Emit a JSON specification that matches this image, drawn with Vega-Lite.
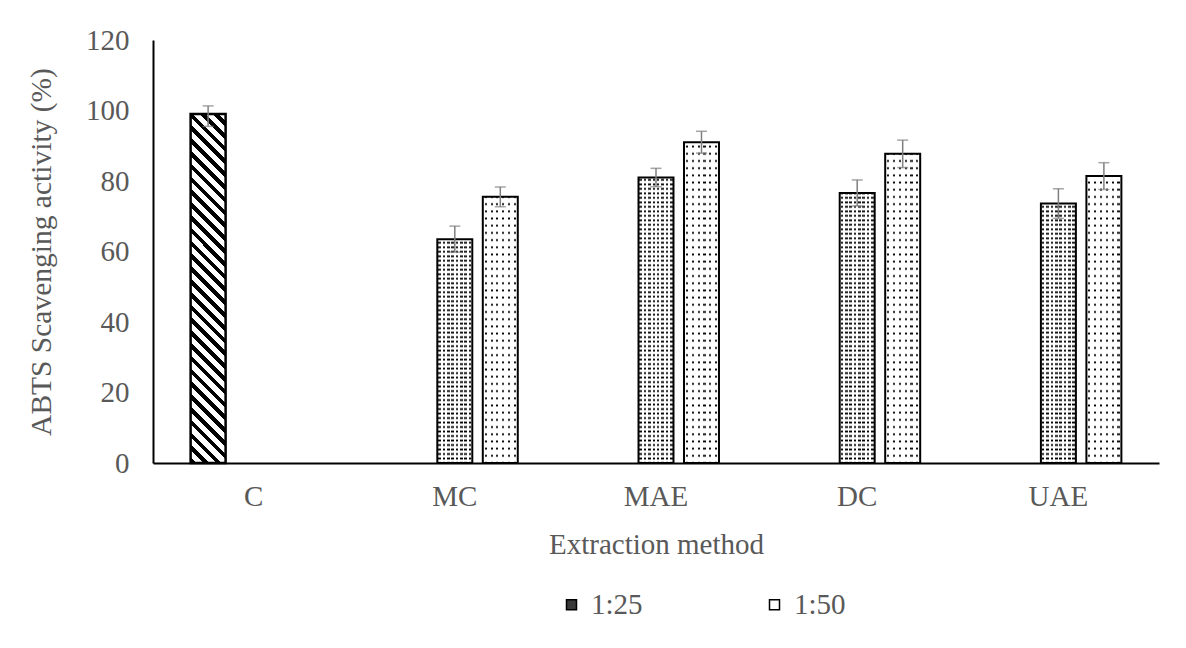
{
  "$schema": "https://vega.github.io/schema/vega-lite/v6.json",
  "width": 1006,
  "height": 423,
  "autosize": {"type": "none"},
  "padding": {"left": 153, "top": 40, "right": 27, "bottom": 185},
  "background": "white",
  "config": {
    "font": "Liberation Serif",
    "view": {"stroke": null},
    "legend": {"labelFont": "Liberation Serif", "labelFontSize": 29, "labelColor": "#595959"}
  },
  "data": {
    "values": [
      {"method": "C", "series": "C", "value": 99, "lo": 95.5, "hi": 101.3},
      {"method": "MC", "series": "1:25", "value": 63.5, "lo": 59.8, "hi": 67.2},
      {"method": "MC", "series": "1:50", "value": 75.5, "lo": 72.7, "hi": 78.3},
      {"method": "MAE", "series": "1:25", "value": 81, "lo": 78.4, "hi": 83.6},
      {"method": "MAE", "series": "1:50", "value": 91, "lo": 87.9, "hi": 94.1},
      {"method": "DC", "series": "1:25", "value": 76.6, "lo": 72.9, "hi": 80.3},
      {"method": "DC", "series": "1:50", "value": 87.7, "lo": 83.8, "hi": 91.6},
      {"method": "UAE", "series": "1:25", "value": 73.6, "lo": 69.4, "hi": 77.8},
      {"method": "UAE", "series": "1:50", "value": 81.4, "lo": 77.6, "hi": 85.2}
    ]
  },
  "encoding": {
    "x": {
      "field": "method", "type": "nominal",
      "sort": ["C", "MC", "MAE", "DC", "UAE"],
      "scale": {"paddingInner": 0, "paddingOuter": 0},
      "axis": {
        "title": "Extraction method", "labelAngle": 0, "ticks": false,
        "domainColor": "#000", "domainWidth": 2, "zindex": 1,
        "labelFont": "Liberation Serif", "labelFontSize": 29, "labelColor": "#595959", "labelPadding": 19,
        "titleFont": "Liberation Serif", "titleFontSize": 29, "titleFontWeight": "normal", "titleColor": "#595959", "titlePadding": 19
      }
    },
    "xOffset": {
      "field": "series", "type": "nominal",
      "scale": {"domain": ["C", "1:25", "1:50"], "paddingInner": 0.231, "paddingOuter": 0.827}
    }
  },
  "layer": [
    {
      "transform": [{"filter": "datum.series !== 'C'"}],
      "mark": {"type": "bar"},
      "encoding": {
        "y": {
          "field": "value", "type": "quantitative",
          "scale": {"domain": [0, 120], "nice": false},
          "axis": {
            "title": "ABTS Scavenging activity (%)", "values": [0, 20, 40, 60, 80, 100, 120],
            "grid": false, "ticks": false, "domainColor": "#000", "domainWidth": 2, "zindex": 1,
            "labelFont": "Liberation Serif", "labelFontSize": 29, "labelColor": "#595959", "labelPadding": 24,
            "titleFont": "Liberation Serif", "titleFontSize": 29.5, "titleFontWeight": "normal", "titleColor": "#595959", "titlePadding": 29
          }
        },
        "fill": {
          "field": "series", "type": "nominal",
          "scale": {"domain": ["1:25", "1:50"], "range": ["#3a3a3a", "#ffffff"]},
          "legend": {
            "orient": "none", "legendX": 404, "legendY": 550, "direction": "horizontal", "title": null,
            "symbolType": "square", "symbolSize": 100, "symbolStrokeColor": "#000", "symbolStrokeWidth": 1.5,
            "labelFont": "Liberation Serif", "labelFontSize": 29, "labelColor": "#595959", "labelOffset": 5,
            "columnPadding": 117, "padding": 0
          }
        }
      }
    },
    {
      "transform": [{"filter": "datum.series === 'C'"}],
      "mark": {
        "type": "bar", "stroke": "#000", "strokeWidth": 2.5,
        "fill": {
          "gradient": "linear", "x1": 0, "y1": 1, "x2": 0.10924, "y2": -0.08934,
          "stops": [
            {"offset": 0, "color": "#000"}, {"offset": 0.015, "color": "#000"}, {"offset": 0.015, "color": "#fff"}, {"offset": 0.0333, "color": "#fff"},
            {"offset": 0.0333, "color": "#000"}, {"offset": 0.0483, "color": "#000"}, {"offset": 0.0483, "color": "#fff"}, {"offset": 0.0667, "color": "#fff"},
            {"offset": 0.0667, "color": "#000"}, {"offset": 0.0817, "color": "#000"}, {"offset": 0.0817, "color": "#fff"}, {"offset": 0.1, "color": "#fff"},
            {"offset": 0.1, "color": "#000"}, {"offset": 0.115, "color": "#000"}, {"offset": 0.115, "color": "#fff"}, {"offset": 0.1333, "color": "#fff"},
            {"offset": 0.1333, "color": "#000"}, {"offset": 0.1483, "color": "#000"}, {"offset": 0.1483, "color": "#fff"}, {"offset": 0.1667, "color": "#fff"},
            {"offset": 0.1667, "color": "#000"}, {"offset": 0.1817, "color": "#000"}, {"offset": 0.1817, "color": "#fff"}, {"offset": 0.2, "color": "#fff"},
            {"offset": 0.2, "color": "#000"}, {"offset": 0.215, "color": "#000"}, {"offset": 0.215, "color": "#fff"}, {"offset": 0.2333, "color": "#fff"},
            {"offset": 0.2333, "color": "#000"}, {"offset": 0.2483, "color": "#000"}, {"offset": 0.2483, "color": "#fff"}, {"offset": 0.2667, "color": "#fff"},
            {"offset": 0.2667, "color": "#000"}, {"offset": 0.2817, "color": "#000"}, {"offset": 0.2817, "color": "#fff"}, {"offset": 0.3, "color": "#fff"},
            {"offset": 0.3, "color": "#000"}, {"offset": 0.315, "color": "#000"}, {"offset": 0.315, "color": "#fff"}, {"offset": 0.3333, "color": "#fff"},
            {"offset": 0.3333, "color": "#000"}, {"offset": 0.3483, "color": "#000"}, {"offset": 0.3483, "color": "#fff"}, {"offset": 0.3667, "color": "#fff"},
            {"offset": 0.3667, "color": "#000"}, {"offset": 0.3817, "color": "#000"}, {"offset": 0.3817, "color": "#fff"}, {"offset": 0.4, "color": "#fff"},
            {"offset": 0.4, "color": "#000"}, {"offset": 0.415, "color": "#000"}, {"offset": 0.415, "color": "#fff"}, {"offset": 0.4333, "color": "#fff"},
            {"offset": 0.4333, "color": "#000"}, {"offset": 0.4483, "color": "#000"}, {"offset": 0.4483, "color": "#fff"}, {"offset": 0.4667, "color": "#fff"},
            {"offset": 0.4667, "color": "#000"}, {"offset": 0.4817, "color": "#000"}, {"offset": 0.4817, "color": "#fff"}, {"offset": 0.5, "color": "#fff"},
            {"offset": 0.5, "color": "#000"}, {"offset": 0.515, "color": "#000"}, {"offset": 0.515, "color": "#fff"}, {"offset": 0.5333, "color": "#fff"},
            {"offset": 0.5333, "color": "#000"}, {"offset": 0.5483, "color": "#000"}, {"offset": 0.5483, "color": "#fff"}, {"offset": 0.5667, "color": "#fff"},
            {"offset": 0.5667, "color": "#000"}, {"offset": 0.5817, "color": "#000"}, {"offset": 0.5817, "color": "#fff"}, {"offset": 0.6, "color": "#fff"},
            {"offset": 0.6, "color": "#000"}, {"offset": 0.615, "color": "#000"}, {"offset": 0.615, "color": "#fff"}, {"offset": 0.6333, "color": "#fff"},
            {"offset": 0.6333, "color": "#000"}, {"offset": 0.6483, "color": "#000"}, {"offset": 0.6483, "color": "#fff"}, {"offset": 0.6667, "color": "#fff"},
            {"offset": 0.6667, "color": "#000"}, {"offset": 0.6817, "color": "#000"}, {"offset": 0.6817, "color": "#fff"}, {"offset": 0.7, "color": "#fff"},
            {"offset": 0.7, "color": "#000"}, {"offset": 0.715, "color": "#000"}, {"offset": 0.715, "color": "#fff"}, {"offset": 0.7333, "color": "#fff"},
            {"offset": 0.7333, "color": "#000"}, {"offset": 0.7483, "color": "#000"}, {"offset": 0.7483, "color": "#fff"}, {"offset": 0.7667, "color": "#fff"},
            {"offset": 0.7667, "color": "#000"}, {"offset": 0.7817, "color": "#000"}, {"offset": 0.7817, "color": "#fff"}, {"offset": 0.8, "color": "#fff"},
            {"offset": 0.8, "color": "#000"}, {"offset": 0.815, "color": "#000"}, {"offset": 0.815, "color": "#fff"}, {"offset": 0.8333, "color": "#fff"},
            {"offset": 0.8333, "color": "#000"}, {"offset": 0.8483, "color": "#000"}, {"offset": 0.8483, "color": "#fff"}, {"offset": 0.8667, "color": "#fff"},
            {"offset": 0.8667, "color": "#000"}, {"offset": 0.8817, "color": "#000"}, {"offset": 0.8817, "color": "#fff"}, {"offset": 0.9, "color": "#fff"},
            {"offset": 0.9, "color": "#000"}, {"offset": 0.915, "color": "#000"}, {"offset": 0.915, "color": "#fff"}, {"offset": 0.9333, "color": "#fff"},
            {"offset": 0.9333, "color": "#000"}, {"offset": 0.9483, "color": "#000"}, {"offset": 0.9483, "color": "#fff"}, {"offset": 0.9667, "color": "#fff"},
            {"offset": 0.9667, "color": "#000"}, {"offset": 0.9817, "color": "#000"}, {"offset": 0.9817, "color": "#fff"}, {"offset": 1, "color": "#fff"}
          ]
        }
      },
      "encoding": {"y": {"field": "value", "type": "quantitative"}}
    },
    {
      "transform": [{"filter": "datum.series === '1:25'"}],
      "mark": {
        "type": "bar",
        "fill": {
          "gradient": "linear", "x1": 0, "y1": 0, "x2": 1, "y2": 0,
          "stops": [
            {"offset": 0.025, "color": "#fff"}, {"offset": 0.025, "color": "#000"}, {"offset": 0.1, "color": "#000"}, {"offset": 0.1, "color": "#fff"},
            {"offset": 0.15, "color": "#fff"}, {"offset": 0.15, "color": "#000"}, {"offset": 0.225, "color": "#000"}, {"offset": 0.225, "color": "#fff"},
            {"offset": 0.275, "color": "#fff"}, {"offset": 0.275, "color": "#000"}, {"offset": 0.35, "color": "#000"}, {"offset": 0.35, "color": "#fff"},
            {"offset": 0.4, "color": "#fff"}, {"offset": 0.4, "color": "#000"}, {"offset": 0.475, "color": "#000"}, {"offset": 0.475, "color": "#fff"},
            {"offset": 0.525, "color": "#fff"}, {"offset": 0.525, "color": "#000"}, {"offset": 0.6, "color": "#000"}, {"offset": 0.6, "color": "#fff"},
            {"offset": 0.65, "color": "#fff"}, {"offset": 0.65, "color": "#000"}, {"offset": 0.725, "color": "#000"}, {"offset": 0.725, "color": "#fff"},
            {"offset": 0.775, "color": "#fff"}, {"offset": 0.775, "color": "#000"}, {"offset": 0.85, "color": "#000"}, {"offset": 0.85, "color": "#fff"},
            {"offset": 0.9, "color": "#fff"}, {"offset": 0.9, "color": "#000"}, {"offset": 0.975, "color": "#000"}, {"offset": 0.975, "color": "#fff"}
          ]
        }
      },
      "encoding": {"y": {"field": "value", "type": "quantitative"}}
    },
    {
      "transform": [{"filter": "datum.series === '1:50'"}],
      "mark": {
        "type": "bar",
        "fill": {
          "gradient": "linear", "x1": 0, "y1": 0, "x2": 1, "y2": 0,
          "stops": [
            {"offset": 0.055, "color": "#fff"}, {"offset": 0.055, "color": "#000"}, {"offset": 0.115, "color": "#000"}, {"offset": 0.115, "color": "#fff"},
            {"offset": 0.222, "color": "#fff"}, {"offset": 0.222, "color": "#000"}, {"offset": 0.282, "color": "#000"}, {"offset": 0.282, "color": "#fff"},
            {"offset": 0.388, "color": "#fff"}, {"offset": 0.388, "color": "#000"}, {"offset": 0.448, "color": "#000"}, {"offset": 0.448, "color": "#fff"},
            {"offset": 0.555, "color": "#fff"}, {"offset": 0.555, "color": "#000"}, {"offset": 0.615, "color": "#000"}, {"offset": 0.615, "color": "#fff"},
            {"offset": 0.722, "color": "#fff"}, {"offset": 0.722, "color": "#000"}, {"offset": 0.782, "color": "#000"}, {"offset": 0.782, "color": "#fff"},
            {"offset": 0.888, "color": "#fff"}, {"offset": 0.888, "color": "#000"}, {"offset": 0.948, "color": "#000"}, {"offset": 0.948, "color": "#fff"}
          ]
        }
      },
      "encoding": {"y": {"field": "value", "type": "quantitative"}}
    },
    {
      "transform": [{"filter": "datum.series === '1:25'"}],
      "mark": {
        "type": "bar",
        "fill": {
          "gradient": "linear", "x1": 0, "y1": 0, "x2": 0, "y2": 1,
          "stops": [
            {"offset": 0, "color": "#fff0"}, {"offset": 0.005, "color": "#fff"}, {"offset": 0.0075, "color": "#fff"},
            {"offset": 0.0125, "color": "#fff0"}, {"offset": 0.0175, "color": "#fff"}, {"offset": 0.02, "color": "#fff"},
            {"offset": 0.025, "color": "#fff0"}, {"offset": 0.03, "color": "#fff"}, {"offset": 0.0325, "color": "#fff"},
            {"offset": 0.0375, "color": "#fff0"}, {"offset": 0.0425, "color": "#fff"}, {"offset": 0.045, "color": "#fff"},
            {"offset": 0.05, "color": "#fff0"}, {"offset": 0.055, "color": "#fff"}, {"offset": 0.0575, "color": "#fff"},
            {"offset": 0.0625, "color": "#fff0"}, {"offset": 0.0675, "color": "#fff"}, {"offset": 0.07, "color": "#fff"},
            {"offset": 0.075, "color": "#fff0"}, {"offset": 0.08, "color": "#fff"}, {"offset": 0.0825, "color": "#fff"},
            {"offset": 0.0875, "color": "#fff0"}, {"offset": 0.0925, "color": "#fff"}, {"offset": 0.095, "color": "#fff"},
            {"offset": 0.1, "color": "#fff0"}, {"offset": 0.105, "color": "#fff"}, {"offset": 0.1075, "color": "#fff"},
            {"offset": 0.1125, "color": "#fff0"}, {"offset": 0.1175, "color": "#fff"}, {"offset": 0.12, "color": "#fff"},
            {"offset": 0.125, "color": "#fff0"}, {"offset": 0.13, "color": "#fff"}, {"offset": 0.1325, "color": "#fff"},
            {"offset": 0.1375, "color": "#fff0"}, {"offset": 0.1425, "color": "#fff"}, {"offset": 0.145, "color": "#fff"},
            {"offset": 0.15, "color": "#fff0"}, {"offset": 0.155, "color": "#fff"}, {"offset": 0.1575, "color": "#fff"},
            {"offset": 0.1625, "color": "#fff0"}, {"offset": 0.1675, "color": "#fff"}, {"offset": 0.17, "color": "#fff"},
            {"offset": 0.175, "color": "#fff0"}, {"offset": 0.18, "color": "#fff"}, {"offset": 0.1825, "color": "#fff"},
            {"offset": 0.1875, "color": "#fff0"}, {"offset": 0.1925, "color": "#fff"}, {"offset": 0.195, "color": "#fff"},
            {"offset": 0.2, "color": "#fff0"}, {"offset": 0.205, "color": "#fff"}, {"offset": 0.2075, "color": "#fff"},
            {"offset": 0.2125, "color": "#fff0"}, {"offset": 0.2175, "color": "#fff"}, {"offset": 0.22, "color": "#fff"},
            {"offset": 0.225, "color": "#fff0"}, {"offset": 0.23, "color": "#fff"}, {"offset": 0.2325, "color": "#fff"},
            {"offset": 0.2375, "color": "#fff0"}, {"offset": 0.2425, "color": "#fff"}, {"offset": 0.245, "color": "#fff"},
            {"offset": 0.25, "color": "#fff0"}, {"offset": 0.255, "color": "#fff"}, {"offset": 0.2575, "color": "#fff"},
            {"offset": 0.2625, "color": "#fff0"}, {"offset": 0.2675, "color": "#fff"}, {"offset": 0.27, "color": "#fff"},
            {"offset": 0.275, "color": "#fff0"}, {"offset": 0.28, "color": "#fff"}, {"offset": 0.2825, "color": "#fff"},
            {"offset": 0.2875, "color": "#fff0"}, {"offset": 0.2925, "color": "#fff"}, {"offset": 0.295, "color": "#fff"},
            {"offset": 0.3, "color": "#fff0"}, {"offset": 0.305, "color": "#fff"}, {"offset": 0.3075, "color": "#fff"},
            {"offset": 0.3125, "color": "#fff0"}, {"offset": 0.3175, "color": "#fff"}, {"offset": 0.32, "color": "#fff"},
            {"offset": 0.325, "color": "#fff0"}, {"offset": 0.33, "color": "#fff"}, {"offset": 0.3325, "color": "#fff"},
            {"offset": 0.3375, "color": "#fff0"}, {"offset": 0.3425, "color": "#fff"}, {"offset": 0.345, "color": "#fff"},
            {"offset": 0.35, "color": "#fff0"}, {"offset": 0.355, "color": "#fff"}, {"offset": 0.3575, "color": "#fff"},
            {"offset": 0.3625, "color": "#fff0"}, {"offset": 0.3675, "color": "#fff"}, {"offset": 0.37, "color": "#fff"},
            {"offset": 0.375, "color": "#fff0"}, {"offset": 0.38, "color": "#fff"}, {"offset": 0.3825, "color": "#fff"},
            {"offset": 0.3875, "color": "#fff0"}, {"offset": 0.3925, "color": "#fff"}, {"offset": 0.395, "color": "#fff"},
            {"offset": 0.4, "color": "#fff0"}, {"offset": 0.405, "color": "#fff"}, {"offset": 0.4075, "color": "#fff"},
            {"offset": 0.4125, "color": "#fff0"}, {"offset": 0.4175, "color": "#fff"}, {"offset": 0.42, "color": "#fff"},
            {"offset": 0.425, "color": "#fff0"}, {"offset": 0.43, "color": "#fff"}, {"offset": 0.4325, "color": "#fff"},
            {"offset": 0.4375, "color": "#fff0"}, {"offset": 0.4425, "color": "#fff"}, {"offset": 0.445, "color": "#fff"},
            {"offset": 0.45, "color": "#fff0"}, {"offset": 0.455, "color": "#fff"}, {"offset": 0.4575, "color": "#fff"},
            {"offset": 0.4625, "color": "#fff0"}, {"offset": 0.4675, "color": "#fff"}, {"offset": 0.47, "color": "#fff"},
            {"offset": 0.475, "color": "#fff0"}, {"offset": 0.48, "color": "#fff"}, {"offset": 0.4825, "color": "#fff"},
            {"offset": 0.4875, "color": "#fff0"}, {"offset": 0.4925, "color": "#fff"}, {"offset": 0.495, "color": "#fff"},
            {"offset": 0.5, "color": "#fff0"}, {"offset": 0.505, "color": "#fff"}, {"offset": 0.5075, "color": "#fff"},
            {"offset": 0.5125, "color": "#fff0"}, {"offset": 0.5175, "color": "#fff"}, {"offset": 0.52, "color": "#fff"},
            {"offset": 0.525, "color": "#fff0"}, {"offset": 0.53, "color": "#fff"}, {"offset": 0.5325, "color": "#fff"},
            {"offset": 0.5375, "color": "#fff0"}, {"offset": 0.5425, "color": "#fff"}, {"offset": 0.545, "color": "#fff"},
            {"offset": 0.55, "color": "#fff0"}, {"offset": 0.555, "color": "#fff"}, {"offset": 0.5575, "color": "#fff"},
            {"offset": 0.5625, "color": "#fff0"}, {"offset": 0.5675, "color": "#fff"}, {"offset": 0.57, "color": "#fff"},
            {"offset": 0.575, "color": "#fff0"}, {"offset": 0.58, "color": "#fff"}, {"offset": 0.5825, "color": "#fff"},
            {"offset": 0.5875, "color": "#fff0"}, {"offset": 0.5925, "color": "#fff"}, {"offset": 0.595, "color": "#fff"},
            {"offset": 0.6, "color": "#fff0"}, {"offset": 0.605, "color": "#fff"}, {"offset": 0.6075, "color": "#fff"},
            {"offset": 0.6125, "color": "#fff0"}, {"offset": 0.6175, "color": "#fff"}, {"offset": 0.62, "color": "#fff"},
            {"offset": 0.625, "color": "#fff0"}, {"offset": 0.63, "color": "#fff"}, {"offset": 0.6325, "color": "#fff"},
            {"offset": 0.6375, "color": "#fff0"}, {"offset": 0.6425, "color": "#fff"}, {"offset": 0.645, "color": "#fff"},
            {"offset": 0.65, "color": "#fff0"}, {"offset": 0.655, "color": "#fff"}, {"offset": 0.6575, "color": "#fff"},
            {"offset": 0.6625, "color": "#fff0"}, {"offset": 0.6675, "color": "#fff"}, {"offset": 0.67, "color": "#fff"},
            {"offset": 0.675, "color": "#fff0"}, {"offset": 0.68, "color": "#fff"}, {"offset": 0.6825, "color": "#fff"},
            {"offset": 0.6875, "color": "#fff0"}, {"offset": 0.6925, "color": "#fff"}, {"offset": 0.695, "color": "#fff"},
            {"offset": 0.7, "color": "#fff0"}, {"offset": 0.705, "color": "#fff"}, {"offset": 0.7075, "color": "#fff"},
            {"offset": 0.7125, "color": "#fff0"}, {"offset": 0.7175, "color": "#fff"}, {"offset": 0.72, "color": "#fff"},
            {"offset": 0.725, "color": "#fff0"}, {"offset": 0.73, "color": "#fff"}, {"offset": 0.7325, "color": "#fff"},
            {"offset": 0.7375, "color": "#fff0"}, {"offset": 0.7425, "color": "#fff"}, {"offset": 0.745, "color": "#fff"},
            {"offset": 0.75, "color": "#fff0"}, {"offset": 0.755, "color": "#fff"}, {"offset": 0.7575, "color": "#fff"},
            {"offset": 0.7625, "color": "#fff0"}, {"offset": 0.7675, "color": "#fff"}, {"offset": 0.77, "color": "#fff"},
            {"offset": 0.775, "color": "#fff0"}, {"offset": 0.78, "color": "#fff"}, {"offset": 0.7825, "color": "#fff"},
            {"offset": 0.7875, "color": "#fff0"}, {"offset": 0.7925, "color": "#fff"}, {"offset": 0.795, "color": "#fff"},
            {"offset": 0.8, "color": "#fff0"}, {"offset": 0.805, "color": "#fff"}, {"offset": 0.8075, "color": "#fff"},
            {"offset": 0.8125, "color": "#fff0"}, {"offset": 0.8175, "color": "#fff"}, {"offset": 0.82, "color": "#fff"},
            {"offset": 0.825, "color": "#fff0"}, {"offset": 0.83, "color": "#fff"}, {"offset": 0.8325, "color": "#fff"},
            {"offset": 0.8375, "color": "#fff0"}, {"offset": 0.8425, "color": "#fff"}, {"offset": 0.845, "color": "#fff"},
            {"offset": 0.85, "color": "#fff0"}, {"offset": 0.855, "color": "#fff"}, {"offset": 0.8575, "color": "#fff"},
            {"offset": 0.8625, "color": "#fff0"}, {"offset": 0.8675, "color": "#fff"}, {"offset": 0.87, "color": "#fff"},
            {"offset": 0.875, "color": "#fff0"}, {"offset": 0.88, "color": "#fff"}, {"offset": 0.8825, "color": "#fff"},
            {"offset": 0.8875, "color": "#fff0"}, {"offset": 0.8925, "color": "#fff"}, {"offset": 0.895, "color": "#fff"},
            {"offset": 0.9, "color": "#fff0"}, {"offset": 0.905, "color": "#fff"}, {"offset": 0.9075, "color": "#fff"},
            {"offset": 0.9125, "color": "#fff0"}, {"offset": 0.9175, "color": "#fff"}, {"offset": 0.92, "color": "#fff"},
            {"offset": 0.925, "color": "#fff0"}, {"offset": 0.93, "color": "#fff"}, {"offset": 0.9325, "color": "#fff"},
            {"offset": 0.9375, "color": "#fff0"}, {"offset": 0.9425, "color": "#fff"}, {"offset": 0.945, "color": "#fff"},
            {"offset": 0.95, "color": "#fff0"}, {"offset": 0.955, "color": "#fff"}, {"offset": 0.9575, "color": "#fff"},
            {"offset": 0.9625, "color": "#fff0"}, {"offset": 0.9675, "color": "#fff"}, {"offset": 0.97, "color": "#fff"},
            {"offset": 0.975, "color": "#fff0"}, {"offset": 0.98, "color": "#fff"}, {"offset": 0.9825, "color": "#fff"},
            {"offset": 0.9875, "color": "#fff0"}, {"offset": 0.9925, "color": "#fff"}, {"offset": 0.995, "color": "#fff"},
            {"offset": 1, "color": "#fff0"}
          ]
        }
      },
      "encoding": {"y": {"datum": 102, "type": "quantitative"}, "y2": {"datum": 0}}
    },
    {
      "transform": [{"filter": "datum.series === '1:50'"}],
      "mark": {
        "type": "bar",
        "fill": {
          "gradient": "linear", "x1": 0, "y1": 0, "x2": 0, "y2": 1,
          "stops": [
            {"offset": 0, "color": "#fff0"}, {"offset": 0.005, "color": "#fff"}, {"offset": 0.015, "color": "#fff"},
            {"offset": 0.02, "color": "#fff0"}, {"offset": 0.025, "color": "#fff"}, {"offset": 0.035, "color": "#fff"},
            {"offset": 0.04, "color": "#fff0"}, {"offset": 0.045, "color": "#fff"}, {"offset": 0.055, "color": "#fff"},
            {"offset": 0.06, "color": "#fff0"}, {"offset": 0.065, "color": "#fff"}, {"offset": 0.075, "color": "#fff"},
            {"offset": 0.08, "color": "#fff0"}, {"offset": 0.085, "color": "#fff"}, {"offset": 0.095, "color": "#fff"},
            {"offset": 0.1, "color": "#fff0"}, {"offset": 0.105, "color": "#fff"}, {"offset": 0.115, "color": "#fff"},
            {"offset": 0.12, "color": "#fff0"}, {"offset": 0.125, "color": "#fff"}, {"offset": 0.135, "color": "#fff"},
            {"offset": 0.14, "color": "#fff0"}, {"offset": 0.145, "color": "#fff"}, {"offset": 0.155, "color": "#fff"},
            {"offset": 0.16, "color": "#fff0"}, {"offset": 0.165, "color": "#fff"}, {"offset": 0.175, "color": "#fff"},
            {"offset": 0.18, "color": "#fff0"}, {"offset": 0.185, "color": "#fff"}, {"offset": 0.195, "color": "#fff"},
            {"offset": 0.2, "color": "#fff0"}, {"offset": 0.205, "color": "#fff"}, {"offset": 0.215, "color": "#fff"},
            {"offset": 0.22, "color": "#fff0"}, {"offset": 0.225, "color": "#fff"}, {"offset": 0.235, "color": "#fff"},
            {"offset": 0.24, "color": "#fff0"}, {"offset": 0.245, "color": "#fff"}, {"offset": 0.255, "color": "#fff"},
            {"offset": 0.26, "color": "#fff0"}, {"offset": 0.265, "color": "#fff"}, {"offset": 0.275, "color": "#fff"},
            {"offset": 0.28, "color": "#fff0"}, {"offset": 0.285, "color": "#fff"}, {"offset": 0.295, "color": "#fff"},
            {"offset": 0.3, "color": "#fff0"}, {"offset": 0.305, "color": "#fff"}, {"offset": 0.315, "color": "#fff"},
            {"offset": 0.32, "color": "#fff0"}, {"offset": 0.325, "color": "#fff"}, {"offset": 0.335, "color": "#fff"},
            {"offset": 0.34, "color": "#fff0"}, {"offset": 0.345, "color": "#fff"}, {"offset": 0.355, "color": "#fff"},
            {"offset": 0.36, "color": "#fff0"}, {"offset": 0.365, "color": "#fff"}, {"offset": 0.375, "color": "#fff"},
            {"offset": 0.38, "color": "#fff0"}, {"offset": 0.385, "color": "#fff"}, {"offset": 0.395, "color": "#fff"},
            {"offset": 0.4, "color": "#fff0"}, {"offset": 0.405, "color": "#fff"}, {"offset": 0.415, "color": "#fff"},
            {"offset": 0.42, "color": "#fff0"}, {"offset": 0.425, "color": "#fff"}, {"offset": 0.435, "color": "#fff"},
            {"offset": 0.44, "color": "#fff0"}, {"offset": 0.445, "color": "#fff"}, {"offset": 0.455, "color": "#fff"},
            {"offset": 0.46, "color": "#fff0"}, {"offset": 0.465, "color": "#fff"}, {"offset": 0.475, "color": "#fff"},
            {"offset": 0.48, "color": "#fff0"}, {"offset": 0.485, "color": "#fff"}, {"offset": 0.495, "color": "#fff"},
            {"offset": 0.5, "color": "#fff0"}, {"offset": 0.505, "color": "#fff"}, {"offset": 0.515, "color": "#fff"},
            {"offset": 0.52, "color": "#fff0"}, {"offset": 0.525, "color": "#fff"}, {"offset": 0.535, "color": "#fff"},
            {"offset": 0.54, "color": "#fff0"}, {"offset": 0.545, "color": "#fff"}, {"offset": 0.555, "color": "#fff"},
            {"offset": 0.56, "color": "#fff0"}, {"offset": 0.565, "color": "#fff"}, {"offset": 0.575, "color": "#fff"},
            {"offset": 0.58, "color": "#fff0"}, {"offset": 0.585, "color": "#fff"}, {"offset": 0.595, "color": "#fff"},
            {"offset": 0.6, "color": "#fff0"}, {"offset": 0.605, "color": "#fff"}, {"offset": 0.615, "color": "#fff"},
            {"offset": 0.62, "color": "#fff0"}, {"offset": 0.625, "color": "#fff"}, {"offset": 0.635, "color": "#fff"},
            {"offset": 0.64, "color": "#fff0"}, {"offset": 0.645, "color": "#fff"}, {"offset": 0.655, "color": "#fff"},
            {"offset": 0.66, "color": "#fff0"}, {"offset": 0.665, "color": "#fff"}, {"offset": 0.675, "color": "#fff"},
            {"offset": 0.68, "color": "#fff0"}, {"offset": 0.685, "color": "#fff"}, {"offset": 0.695, "color": "#fff"},
            {"offset": 0.7, "color": "#fff0"}, {"offset": 0.705, "color": "#fff"}, {"offset": 0.715, "color": "#fff"},
            {"offset": 0.72, "color": "#fff0"}, {"offset": 0.725, "color": "#fff"}, {"offset": 0.735, "color": "#fff"},
            {"offset": 0.74, "color": "#fff0"}, {"offset": 0.745, "color": "#fff"}, {"offset": 0.755, "color": "#fff"},
            {"offset": 0.76, "color": "#fff0"}, {"offset": 0.765, "color": "#fff"}, {"offset": 0.775, "color": "#fff"},
            {"offset": 0.78, "color": "#fff0"}, {"offset": 0.785, "color": "#fff"}, {"offset": 0.795, "color": "#fff"},
            {"offset": 0.8, "color": "#fff0"}, {"offset": 0.805, "color": "#fff"}, {"offset": 0.815, "color": "#fff"},
            {"offset": 0.82, "color": "#fff0"}, {"offset": 0.825, "color": "#fff"}, {"offset": 0.835, "color": "#fff"},
            {"offset": 0.84, "color": "#fff0"}, {"offset": 0.845, "color": "#fff"}, {"offset": 0.855, "color": "#fff"},
            {"offset": 0.86, "color": "#fff0"}, {"offset": 0.865, "color": "#fff"}, {"offset": 0.875, "color": "#fff"},
            {"offset": 0.88, "color": "#fff0"}, {"offset": 0.885, "color": "#fff"}, {"offset": 0.895, "color": "#fff"},
            {"offset": 0.9, "color": "#fff0"}, {"offset": 0.905, "color": "#fff"}, {"offset": 0.915, "color": "#fff"},
            {"offset": 0.92, "color": "#fff0"}, {"offset": 0.925, "color": "#fff"}, {"offset": 0.935, "color": "#fff"},
            {"offset": 0.94, "color": "#fff0"}, {"offset": 0.945, "color": "#fff"}, {"offset": 0.955, "color": "#fff"},
            {"offset": 0.96, "color": "#fff0"}, {"offset": 0.965, "color": "#fff"}, {"offset": 0.975, "color": "#fff"},
            {"offset": 0.98, "color": "#fff0"}, {"offset": 0.985, "color": "#fff"}, {"offset": 0.995, "color": "#fff"},
            {"offset": 1, "color": "#fff0"}
          ]
        }
      },
      "encoding": {"y": {"datum": 102, "type": "quantitative"}, "y2": {"datum": 0}}
    },
    {
      "transform": [{"filter": "datum.series !== 'C'"}],
      "mark": {"type": "bar", "fill": "transparent", "stroke": "#000", "strokeWidth": 2},
      "encoding": {"y": {"field": "value", "type": "quantitative"}}
    },
    {
      "mark": {"type": "rule", "stroke": "#7f7f7f", "strokeWidth": 1.5},
      "encoding": {"y": {"field": "lo", "type": "quantitative"}, "y2": {"field": "hi"}}
    },
    {
      "mark": {"type": "tick", "color": "#7f7f7f", "size": 11, "thickness": 1.5, "orient": "horizontal"},
      "encoding": {"y": {"field": "lo", "type": "quantitative"}}
    },
    {
      "mark": {"type": "tick", "color": "#7f7f7f", "size": 11, "thickness": 1.5, "orient": "horizontal"},
      "encoding": {"y": {"field": "hi", "type": "quantitative"}}
    }
  ]
}
